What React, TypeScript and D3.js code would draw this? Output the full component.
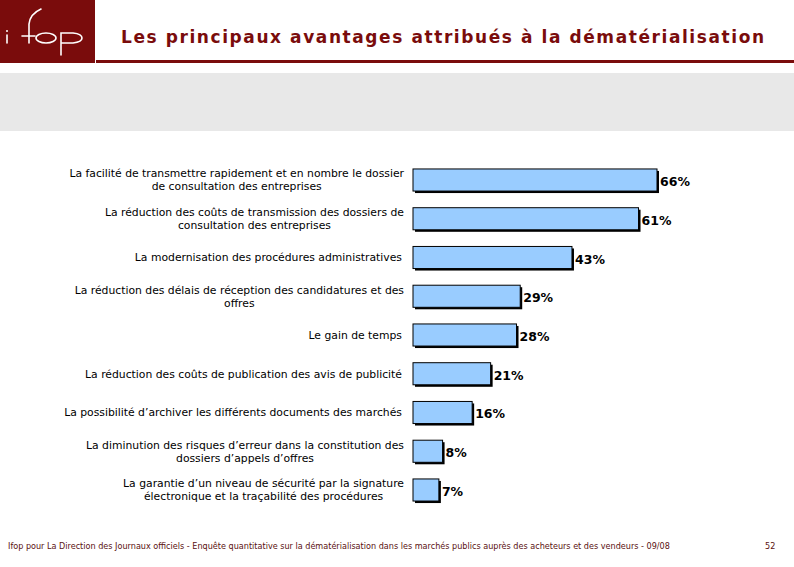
import React, { useMemo } from "react";
import * as d3 from "d3";

const categories: string[][] = [
  ["La facilité de transmettre rapidement et en nombre le dossier", "de consultation des entreprises"],
  ["La réduction des coûts de transmission des dossiers de", "consultation des entreprises"],
  ["La modernisation des procédures administratives"],
  ["La réduction des délais de réception des candidatures et des", "offres"],
  ["Le gain de temps"],
  ["La réduction des coûts de publication des avis de publicité"],
  ["La possibilité d’archiver les différents documents des marchés"],
  ["La diminution des risques d’erreur dans la constitution des", "dossiers d’appels d’offres"],
  ["La garantie d’un niveau de sécurité par la signature", "électronique et la traçabilité des procédures"],
];
const values: number[] = [66, 61, 43, 29, 28, 21, 16, 8, 7];

const title = "Les principaux avantages attribués à la dématérialisation";
const footer =
  "Ifop pour La Direction des Journaux officiels - Enquête quantitative sur la dématérialisation dans les marchés publics auprès des acheteurs et des vendeurs - 09/08";
const pageNumber = "52";

const W = 794;
const H = 567;
const DARK_RED = "#7a0c0c";
const FONT = "'DejaVu Sans', Verdana, sans-serif";
const LABEL_SIZE = 10.8;

export default function App() {
  const ids = categories.map((_, i) => String(i));
  const y = d3.scaleBand<string>().domain(ids).range([152.3, 517.7]).padding(0.43);
  const x = d3.scaleLinear().domain([0, 66]).range([413, 657]);
  const bh = y.bandwidth();
  const lineH = 13;

  const widths = useMemo(() => {
    const c = document.createElement("canvas").getContext("2d");
    if (!c) return categories.map(() => 330);
    c.font = `${LABEL_SIZE}px 'DejaVu Sans'`;
    return categories.map((lines) => Math.max(...lines.map((l) => c.measureText(l).width)));
  }, []);

  return (
    <svg
      width={W}
      height={H}
      viewBox={`0 0 ${W} ${H}`}
      style={{ position: "absolute", left: 0, top: 0, background: "#fff" }}
    >
      {/* header */}
      <rect x={0} y={0} width={95} height={63} fill={DARK_RED} />
      <g fill="none" stroke="#fff" strokeWidth={1.6} strokeLinecap="round">
        <line x1={7} y1={35} x2={7} y2={43} />
        <path d="M29,43 L29,24 Q30,14 41,9" />
        <line x1={22} y1={36} x2={35} y2={36} />
        <ellipse cx={46} cy={38} rx={10} ry={5} />
        <path d="M61,55 L61,33 L73,33 Q82,34 82,38 Q82,42 73,43 L61,43" />
      </g>
      <circle cx={7} cy={31} r={1} fill="#fff" />
      <rect x={96} y={60} width={W - 96} height={3} fill={DARK_RED} />
      <text
        x={121}
        y={43}
        fill={DARK_RED}
        fontFamily={FONT}
        fontWeight="bold"
        fontSize={17}
        textLength={643}
        lengthAdjust="spacing"
      >
        {title}
      </text>
      <rect x={0} y={73} width={W} height={58} fill="#e8e8e8" />

      {/* bars */}
      {values.map((v, i) => {
        const yy = y(String(i))!;
        const w = x(v) - x(0);
        return (
          <g key={i}>
            <rect x={x(0) + 2} y={yy + 2} width={w} height={bh} fill="#000" />
            <rect x={x(0)} y={yy} width={w} height={bh} fill="#99ccff" stroke="#000" strokeWidth={1} />
            <text
              x={x(v) + 3}
              y={yy + bh / 2 + 6}
              fontFamily={FONT}
              fontWeight="bold"
              fontSize={12.5}
              fill="#000"
            >
              {v}%
            </text>
          </g>
        );
      })}

      {/* labels */}
      {categories.map((lines, i) => {
        const cy = y(String(i))! + bh / 2;
        const n = lines.length;
        const right = n > 1 ? 404 : 402;
        const cx = right - widths[i] / 2;
        return (
          <text
            key={i}
            textAnchor="middle"
            fontFamily={FONT}
            fontSize={LABEL_SIZE}
            fill="#000"
          >
            {lines.map((l, j) => (
              <tspan key={j} x={cx} y={cy + (j - (n - 1) / 2) * lineH + 3.8}>
                {l}
              </tspan>
            ))}
          </text>
        );
      })}

      {/* footer */}
      <text x={8} y={549} fontFamily={FONT} fontSize={8.1} fill="#5a1010">
        {footer}
      </text>
      <text x={765} y={549} fontFamily={FONT} fontSize={8.1} fill="#5a1010">
        {pageNumber}
      </text>
    </svg>
  );
}
